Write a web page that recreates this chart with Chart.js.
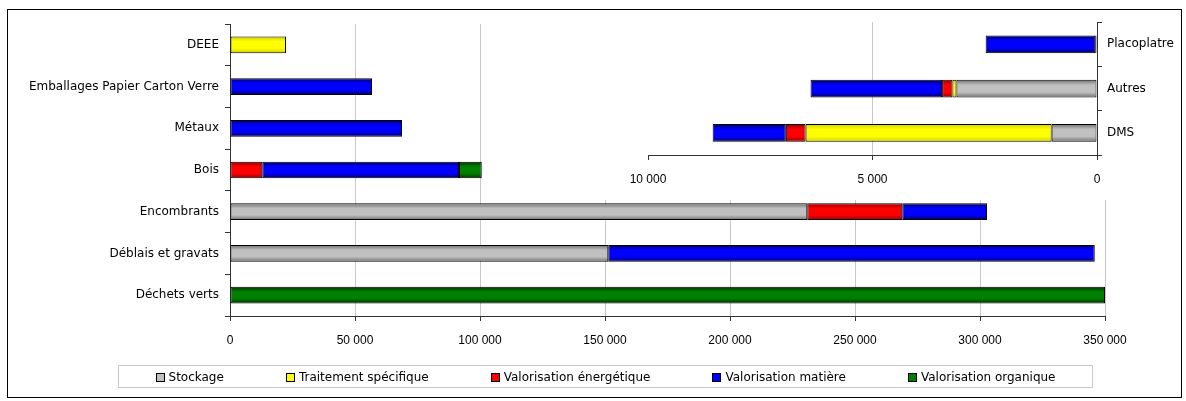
<!DOCTYPE html>
<html>
<head>
<meta charset="utf-8">
<script src="https://cdn.jsdelivr.net/npm/chart.js@4.4.1/dist/chart.umd.min.js"></script>
<style>
  body { margin: 0; background: #fff; }
  #wrap { position: relative; width: 1186px; height: 401px; overflow: hidden; }
  #frame { position: absolute; left: 7px; top: 9px; width: 1175px; height: 389px; border: 1px solid #000; box-sizing: border-box; }
  #main { position: absolute; left: 0; top: 0; }
  #inset { position: absolute; left: 500px; top: 10px; background: #fff; }
  #legend { position: absolute; left: 118px; top: 365px; width: 975px; height: 23px; border: 1px solid #c8c8c8; box-sizing: border-box;
            display: flex; justify-content: center; align-items: center; gap: 62px; font: 12px 'DejaVu Sans', sans-serif; color: #000; }
  #legend span.sw { display: inline-block; width: 7px; height: 7px; border: 1px solid #000; margin-right: 4px; vertical-align: -1px; }
</style>
</head>
<body>
<div id="wrap">
  <div id="frame"></div>
  <canvas id="main" width="1186" height="401"></canvas>
  <canvas id="inset" width="680" height="190"></canvas>
  <div id="legend"></div>
</div>
<script>
// series names and colours
var seriesNames = ['Stockage', 'Traitement spécifique', 'Valorisation énergétique', 'Valorisation matière', 'Valorisation organique'];
var seriesColors = ['#c0c0c0', '#ffff00', '#ff0000', '#0000ff', '#008000'];
var seriesDark = ['#707070', '#d0d000', '#980000', '#000060', '#003000'];

// main chart (tonnes)
var mainLabels = ['DEEE', 'Emballages Papier Carton Verre', 'Métaux', 'Bois', 'Encombrants', 'Déblais et gravats', 'Déchets verts'];
var mainStockage    = [0, 0, 0, 0, 230900, 151300, 0];
var mainTraitement  = [22400, 0, 0, 0, 0, 0, 0];
var mainEnergetique = [0, 0, 0, 12900, 38000, 0, 0];
var mainMatiere     = [0, 56800, 68800, 78700, 33900, 194600, 0];
var mainOrganique   = [0, 0, 0, 9100, 0, 0, 350000];
var mainTicks = [0, 50000, 100000, 150000, 200000, 250000, 300000, 350000];

// small chart (tonnes)
var insetLabels = ['Placoplatre', 'Autres', 'DMS'];
var insetStockage    = [40, 3130, 1010];
var insetTraitement  = [0, 90, 5480];
var insetEnergetique = [0, 230, 440];
var insetMatiere     = [2440, 2930, 1630];
var insetOrganique   = [0, 0, 0];
var insetTicks = [0, 5000, 10000];

var BAR_PCT = 0.4;
var catFont = { family: "'DejaVu Sans', sans-serif", size: 12 };
var numFont = { family: "'Liberation Sans Narrow', 'Liberation Sans', sans-serif", size: 12 };

function fmt(v) {
  return String(v).replace(/\B(?=(\d{3})+(?!\d))/g, ' ');
}

// shaded fill like the old office 3D bars
function barFill(i) {
  return function (ctx) {
    var chart = ctx.chart;
    var y = chart.scales.y;
    if (!chart.chartArea || !y) return seriesColors[i];
    var c = y.getPixelForValue(ctx.dataIndex);
    var half = y.height / y.getLabels().length * BAR_PCT / 2;
    var g = chart.ctx.createLinearGradient(0, c - half, 0, c + half);
    g.addColorStop(0, seriesDark[i]);
    g.addColorStop(0.3, seriesColors[i]);
    g.addColorStop(0.7, seriesColors[i]);
    g.addColorStop(1, seriesDark[i]);
    return g;
  };
}

function makeDatasets(arrays) {
  return arrays.map(function (arr, i) {
    return {
      label: seriesNames[i],
      data: arr,
      backgroundColor: barFill(i),
      borderColor: '#000',
      borderWidth: 1,
      borderSkipped: false,
      barPercentage: 1,
      categoryPercentage: BAR_PCT
    };
  });
}

new Chart(document.getElementById('main'), {
  type: 'bar',
  data: {
    labels: mainLabels,
    datasets: makeDatasets([mainStockage, mainTraitement, mainEnergetique, mainMatiere, mainOrganique])
  },
  options: {
    indexAxis: 'y',
    responsive: false,
    animation: false,
    layout: { padding: { left: 0, top: 24, right: 81, bottom: 45 } },
    plugins: { legend: { display: false }, tooltip: { enabled: false } },
    scales: {
      x: {
        stacked: true,
        min: 0,
        max: 350000,
        afterBuildTicks: function (axis) { axis.ticks = mainTicks.map(function (v) { return { value: v }; }); },
        afterFit: function (axis) { axis.height = 40; },
        grid: { color: '#c8c8c8', tickColor: '#333', tickLength: 5 },
        border: { color: '#333' },
        ticks: { color: '#000', font: numFont, padding: 12, maxRotation: 0, callback: function (v) { return fmt(v); } }
      },
      y: {
        stacked: true,
        afterFit: function (axis) { axis.width = 230; },
        grid: { offset: true, drawOnChartArea: false, tickColor: '#333', tickLength: 5 },
        border: { color: '#333' },
        ticks: { color: '#000', font: catFont, padding: 6 }
      }
    }
  }
});

new Chart(document.getElementById('inset'), {
  type: 'bar',
  data: {
    labels: insetLabels,
    datasets: makeDatasets([insetStockage, insetTraitement, insetEnergetique, insetMatiere, insetOrganique])
  },
  options: {
    indexAxis: 'y',
    responsive: false,
    animation: false,
    layout: { padding: { left: 148, top: 6, right: 0, bottom: 5 } },
    plugins: { legend: { display: false }, tooltip: { enabled: false } },
    scales: {
      x: {
        stacked: true,
        reverse: true,
        min: 0,
        max: 10000,
        afterBuildTicks: function (axis) { axis.ticks = insetTicks.map(function (v) { return { value: v }; }); },
        afterFit: function (axis) { axis.height = 40; },
        grid: {
          color: function (c) { return c.tick && c.tick.value === 5000 ? '#c8c8c8' : 'rgba(0,0,0,0)'; },
          tickColor: '#333',
          tickLength: 5
        },
        border: { color: '#333' },
        ticks: { color: '#000', font: numFont, padding: 12, maxRotation: 0, callback: function (v) { return fmt(v); } }
      },
      y: {
        stacked: true,
        position: 'right',
        afterFit: function (axis) { axis.width = 83; },
        grid: { offset: true, drawOnChartArea: false, tickColor: '#333', tickLength: 5 },
        border: { color: '#333' },
        ticks: { color: '#000', font: catFont, padding: 5 }
      }
    }
  }
});

// legend, built from the series lists
var legend = document.getElementById('legend');
seriesNames.forEach(function (name, i) {
  var item = document.createElement('div');
  var sw = document.createElement('span');
  sw.className = 'sw';
  sw.style.background = seriesColors[i];
  item.appendChild(sw);
  item.appendChild(document.createTextNode(name));
  legend.appendChild(item);
});
</script>
</body>
</html>
